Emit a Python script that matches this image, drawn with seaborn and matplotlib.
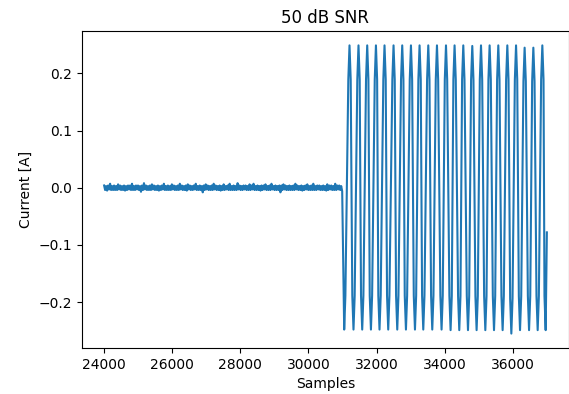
import numpy as np
import pandas as pd
import matplotlib
matplotlib.use("Agg")
import matplotlib.pyplot as plt
import seaborn as sns

# Idle segment: measured current before the excitation switches on
idle_start, idle_end = 24000, 30990
idle_current = [
    0.004, -0.004, 0.003, -0.005, 0.004, -0.003, 0.007, -0.004, 0.003, -0.004,
    0.004, -0.004, 0.003, -0.004, 0.006, -0.003, 0.004, -0.004, 0.003, -0.004,
    0.004, -0.005, 0.003, -0.004, 0.004, -0.003, 0.004, -0.004, 0.007, -0.004,
    0.003, -0.004, 0.004, -0.003, 0.004, -0.004, 0.003, -0.007, 0.004, -0.004,
    0.008, -0.003, 0.004, -0.004, 0.003, -0.004, 0.004, -0.004, 0.006, -0.003,
    0.004, -0.004, 0.003, -0.004, 0.004, -0.005, 0.003, -0.004, 0.004, -0.003,
    0.007, -0.004, 0.003, -0.004, 0.004, -0.004, 0.003, -0.004, 0.006, -0.003,
    0.004, -0.004, 0.003, -0.004, 0.004, -0.004, 0.007, -0.003, 0.004, -0.004,
    0.003, -0.004, 0.004, -0.005, 0.006, -0.003, 0.004, -0.004, 0.003, -0.004,
    0.004, -0.003, 0.007, -0.004, 0.003, -0.004, 0.004, -0.004, 0.003, -0.008,
    0.004, -0.004, 0.006, -0.003, 0.004, -0.004, 0.003, -0.004, 0.004, -0.004,
    0.007, -0.003, 0.004, -0.004, 0.003, -0.004, 0.004, -0.005, 0.003, -0.004,
    0.006, -0.004, 0.003, -0.003, 0.004, -0.004, 0.007, -0.004, 0.003, -0.004,
    0.004, -0.004, 0.003, -0.004, 0.008, -0.003, 0.004, -0.004, 0.003, -0.004,
    0.004, -0.003, 0.004, -0.004, 0.003, -0.004, 0.006, -0.004, 0.004, -0.003,
    0.007, -0.004, 0.003, -0.004, 0.004, -0.004, 0.003, -0.005, 0.004, -0.004,
    0.004, -0.003, 0.006, -0.004, 0.003, -0.004, 0.004, -0.004, 0.007, -0.003,
    0.003, -0.004, 0.004, -0.004, 0.003, -0.004, 0.004, -0.008, 0.004, -0.004,
    0.006, -0.003, 0.004, -0.004, 0.003, -0.004, 0.004, -0.004, 0.003, -0.004,
    0.004, -0.004, 0.007, -0.003, 0.004, -0.004, 0.003, -0.004, 0.004, -0.005,
    0.003, -0.004, 0.004, -0.003, 0.006, -0.004, 0.003, -0.004, 0.004, -0.004,
    0.007, -0.004, 0.003, -0.004, 0.004, -0.003, 0.004, -0.004, 0.003, -0.004,
    0.004, -0.004, 0.003, -0.005, 0.006, -0.004, 0.004, -0.003, 0.004, -0.004,
    0.003, -0.004, 0.007, -0.004, 0.004, -0.003, 0.004, -0.004, 0.003, -0.006,
]

# Excitation segment: turning points of the oscillating current
trough_samples = [31049, 31322, 31578, 31834, 32086, 32342, 32607, 32862,
                  33127, 33371, 33635, 33908, 34173, 34428, 34684, 34937,
                  35193, 35448, 35701, 35957, 36212, 36477, 36730, 36965]
trough_current = [-0.248, -0.248, -0.248, -0.248, -0.248, -0.248, -0.248, -0.248,
                  -0.248, -0.248, -0.248, -0.248, -0.249, -0.249, -0.249, -0.249,
                  -0.249, -0.249, -0.249, -0.255, -0.249, -0.249, -0.249, -0.249]
peak_samples = [31205, 31469, 31725, 31981, 32233, 32498, 32753, 33009,
                33262, 33518, 33773, 34038, 34290, 34546, 34810, 35066,
                35319, 35574, 35839, 36095, 36347, 36603, 36867]
peak_current = [0.249, 0.249, 0.249, 0.249, 0.249, 0.249, 0.249, 0.249,
                0.249, 0.249, 0.249, 0.249, 0.249, 0.249, 0.248, 0.249,
                0.249, 0.249, 0.249, 0.249, 0.245, 0.245, 0.249]
final_sample, final_current = 37000, -0.078

# Rounded turns: the trace stays near each extremum for a short stretch
knee_offset = 35      # samples either side of a turning point
knee_ratio = 0.76     # fraction of the extremum reached at the knee

# Assemble the trace
idle_x = np.linspace(idle_start, idle_end, len(idle_current))

turn_x = np.empty(len(trough_samples) + len(peak_samples))
turn_y = np.empty_like(turn_x)
turn_x[0::2], turn_y[0::2] = trough_samples, trough_current
turn_x[1::2], turn_y[1::2] = peak_samples, peak_current

osc_x, osc_y = [], []
for i, (tx, ty) in enumerate(zip(turn_x, turn_y)):
    if i > 0:
        osc_x.append(tx - knee_offset)
        osc_y.append(ty * knee_ratio)
    osc_x.append(tx)
    osc_y.append(ty)
    if i < len(turn_x) - 1:
        osc_x.append(tx + knee_offset)
        osc_y.append(ty * knee_ratio)

df = pd.DataFrame({
    "Samples": np.concatenate([idle_x, osc_x, [final_sample]]),
    "Current [A]": np.concatenate([idle_current, osc_y, [final_current]]),
})

fig = plt.figure(figsize=(5.69, 3.94), dpi=100)
ax = fig.add_axes([0.1441, 0.1168, 0.8559, 0.8046])
sns.lineplot(data=df, x="Samples", y="Current [A]", estimator=None,
             sort=False, color="#1f77b4", linewidth=1.5, ax=ax)
ax.set_title("50 dB SNR")
ax.set_xticks([24000, 26000, 28000, 30000, 32000, 34000, 36000])
ax.set_yticks([-0.2, -0.1, 0.0, 0.1, 0.2])
fig.savefig("out.png", dpi=100)
